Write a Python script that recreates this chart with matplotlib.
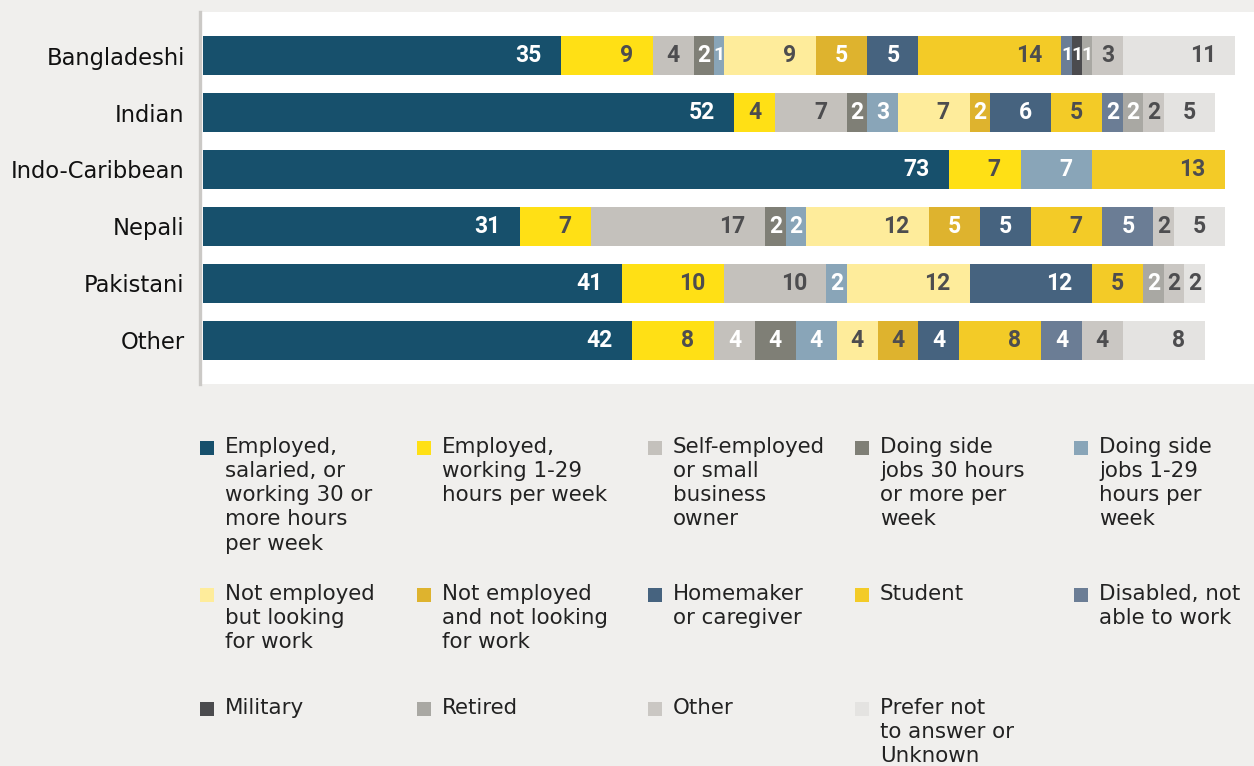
import numpy as np
import matplotlib
matplotlib.use("Agg")
from matplotlib import pyplot as plt
from matplotlib.patches import Rectangle

# Groups (rows, top to bottom)
groups = ["Bangladeshi", "Indian", "Indo-Caribbean", "Nepali", "Pakistani", "Other"]

# Employment categories (legend order = stacking order)
categories = [
    "Employed,\nsalaried, or\nworking 30 or\nmore hours\nper week",
    "Employed,\nworking 1-29\nhours per week",
    "Self-employed\nor small\nbusiness\nowner",
    "Doing side\njobs 30 hours\nor more per\nweek",
    "Doing side\njobs 1-29\nhours per\nweek",
    "Not employed\nbut looking\nfor work",
    "Not employed\nand not looking\nfor work",
    "Homemaker\nor caregiver",
    "Student",
    "Disabled, not\nable to work",
    "Military",
    "Retired",
    "Other",
    "Prefer not\nto answer or\nUnknown",
]

# percentages, one list per category, values per group
employed_30 = [35, 52, 73, 31, 41, 42]
employed_1_29 = [9, 4, 7, 7, 10, 8]
self_employed = [4, 7, 0, 17, 10, 4]
side_30 = [2, 2, 0, 2, 0, 4]
side_1_29 = [1, 3, 7, 2, 2, 4]
not_emp_looking = [9, 7, 0, 12, 12, 4]
not_emp_not_looking = [5, 2, 0, 5, 0, 4]
homemaker = [5, 6, 0, 5, 12, 4]
student = [14, 5, 13, 7, 5, 8]
disabled = [1, 2, 0, 5, 0, 4]
military = [1, 0, 0, 0, 0, 0]
retired = [1, 2, 0, 0, 2, 0]
other = [3, 2, 0, 2, 2, 4]
prefer_not = [11, 5, 0, 5, 2, 8]

values = [employed_30, employed_1_29, self_employed, side_30, side_1_29,
          not_emp_looking, not_emp_not_looking, homemaker, student, disabled,
          military, retired, other, prefer_not]

colors = ["#17506C", "#FFE015", "#C4C1BC", "#7F7F76", "#89A5B8", "#FEEC9B",
          "#DEB32E", "#46637F", "#F3CB27", "#6B7D95", "#4B4B4E", "#A9A8A3",
          "#CAC7C3", "#E4E3E1"]

WHITE = "white"
DARK = "#4D4D4F"
label_colors = [WHITE, DARK, DARK, WHITE, WHITE, DARK, WHITE, WHITE, DARK,
                WHITE, WHITE, WHITE, DARK, DARK]
# a few labels in the source use the other colour
label_overrides = {(5, 2): WHITE, (5, 6): DARK}

BG = "#F0EFED"
W, H = 1254, 766

fig = plt.figure(figsize=(W / 100, H / 100), dpi=100, facecolor=BG)

# plot panel in pixel coordinates
px_left, px_right, px_top, px_bottom = 200, 1254, 12, 384
unit_px = 10.22
ax = fig.add_axes([px_left / W, 1 - px_bottom / H,
                   (px_right - px_left) / W, (px_bottom - px_top) / H])
ax.set_facecolor("white")
x0 = -3 / unit_px
ax.set_xlim(x0, x0 + (px_right - px_left) / unit_px)
pitch = 57
first_center = 55.5
ax.set_ylim(len(groups) - 1 + (px_bottom - (first_center + 5 * pitch)) / pitch,
            -(first_center - px_top) / pitch)

for s in ["top", "right", "bottom"]:
    ax.spines[s].set_visible(False)
ax.spines["left"].set_color("#CBC9C6")
ax.spines["left"].set_linewidth(2.4)
ax.set_xticks([])
ax.set_yticks(range(len(groups)))
ax.set_yticklabels(groups, fontsize=16.3, color="#111111", fontfamily="DejaVu Sans")
ax.tick_params(axis="y", length=0, pad=11)

y = np.arange(len(groups))
left = np.zeros(len(groups))
bar_h = 39 / pitch
num_font = dict(family=["Roboto", "DejaVu Sans"], weight="bold")
pad_units = 20 / unit_px
digit_units = 12.5 / unit_px

for ci, vals in enumerate(values):
    vals = np.array(vals, dtype=float)
    ax.barh(y, vals, left=left, height=bar_h, color=colors[ci], linewidth=0)
    for ri, v in enumerate(vals):
        if v <= 0:
            continue
        txt = str(int(v))
        half = len(txt) * digit_units / 2
        xc = max(left[ri] + v / 2, left[ri] + v - pad_units - half)
        col = label_overrides.get((ri, ci), label_colors[ci])
        size = 16.5 if v >= 2 else 14
        ax.text(xc, ri, txt, ha="center", va="center", color=col,
                size=size, **num_font)
    left += vals

# legend, drawn by hand to keep the grid of the original
col_x = [200, 417, 648, 855, 1074]
row_y = [448, 595, 709]
sq = 14
for i, lab in enumerate(categories):
    r, c = divmod(i, 5)
    xs, ys = col_x[c], row_y[r]
    fig.add_artist(Rectangle((xs / W, 1 - (ys + sq / 2) / H), sq / W, sq / H,
                             transform=fig.transFigure, color=colors[i], lw=0))
    fig.text((xs + 25) / W, 1 - (ys - 11) / H, lab, ha="left", va="top",
             fontsize=15.4, color="#222222", linespacing=1.26,
             fontfamily="DejaVu Sans")

fig.savefig("out.png", dpi=100, facecolor=BG)
